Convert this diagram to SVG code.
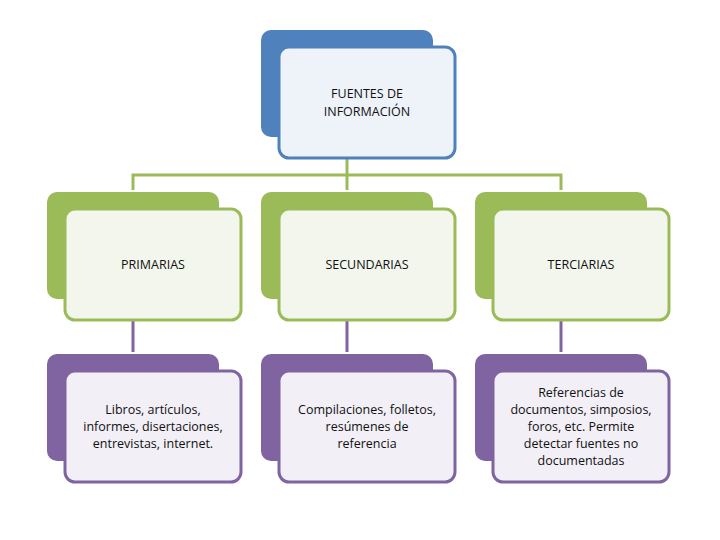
<svg xmlns="http://www.w3.org/2000/svg" width="720" height="540" viewBox="0 0 720 540">
<style>
.t{font-family:"Open Sans","Liberation Sans",sans-serif;font-size:12.5px;fill:#111;text-anchor:middle}
.bb{fill:#4f81bd}.bo{fill:#eef2f9;stroke:#4f81bd;stroke-width:3}
.gb{fill:#9bbb59}.go{fill:#f2f6ec;stroke:#9bbb59;stroke-width:3}
.pb{fill:#8064a2}.po{fill:#f2eff6;stroke:#8064a2;stroke-width:3}
.c{fill:none;stroke-width:3}
</style>
<g id="connectors">
<path class="c" stroke="#9bbb59" d="M133 190V175H561V190M347 158V190"/>
<path class="c" stroke="#8064a2" d="M133 320V352M347 320V352M561 320V352"/>
</g>
<g id="top"><rect class="bb" x="261" y="30" width="172" height="107" rx="10"/><rect class="bo" x="279" y="47" width="176" height="111" rx="10"/><text class="t" x="367" y="98">FUENTES DE</text><text class="t" x="367" y="116">INFORMACIÓN</text></g>
<g id="primarias"><rect class="gb" x="47" y="192" width="172" height="107" rx="10"/><rect class="go" x="65" y="209" width="176" height="111" rx="10"/><text class="t" x="153" y="269">PRIMARIAS</text></g>
<g id="secundarias"><rect class="gb" x="261" y="192" width="172" height="107" rx="10"/><rect class="go" x="279" y="209" width="176" height="111" rx="10"/><text class="t" x="367" y="269">SECUNDARIAS</text></g>
<g id="terciarias"><rect class="gb" x="475" y="192" width="172" height="107" rx="10"/><rect class="go" x="493" y="209" width="176" height="111" rx="10"/><text class="t" x="581" y="269">TERCIARIAS</text></g>
<g id="p1"><rect class="pb" x="47" y="354" width="172" height="107" rx="10"/><rect class="po" x="65" y="371" width="176" height="111" rx="10"/><text class="t" x="153" y="414">Libros, artículos,</text><text class="t" x="153" y="431">informes, disertaciones,</text><text class="t" x="153" y="448">entrevistas, internet.</text></g>
<g id="p2"><rect class="pb" x="261" y="354" width="172" height="107" rx="10"/><rect class="po" x="279" y="371" width="176" height="111" rx="10"/><text class="t" x="367" y="414">Compilaciones, folletos,</text><text class="t" x="367" y="431">resúmenes de</text><text class="t" x="367" y="448">referencia</text></g>
<g id="p3"><rect class="pb" x="475" y="354" width="172" height="107" rx="10"/><rect class="po" x="493" y="371" width="176" height="111" rx="10"/><text class="t" x="581" y="397">Referencias de</text><text class="t" x="581" y="414">documentos, simposios,</text><text class="t" x="581" y="431">foros, etc. Permite</text><text class="t" x="581" y="448">detectar fuentes no</text><text class="t" x="581" y="465">documentadas</text></g>
</svg>
